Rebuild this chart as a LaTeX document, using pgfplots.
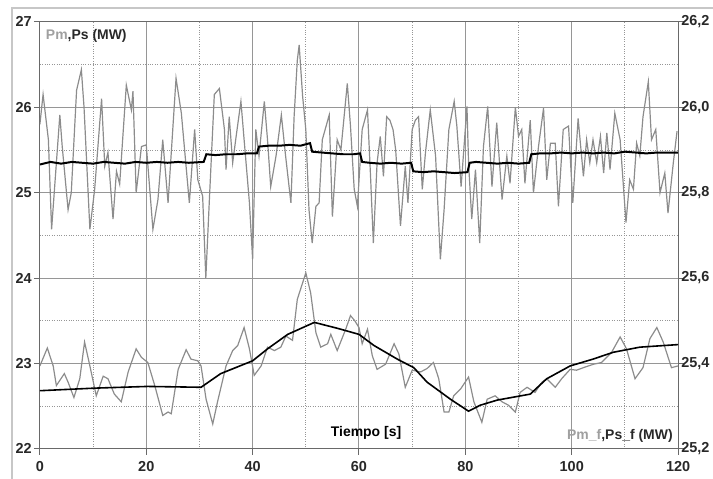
\documentclass[border=0pt]{standalone}
\usepackage{fontspec}
\setmainfont{Liberation Sans}
\usepackage{pgfplots}
\pgfplotsset{compat=1.18}
\definecolor{gridc}{RGB}{150,150,150}
\definecolor{pmc}{RGB}{140,140,140}
\definecolor{axc}{RGB}{105,105,105}
\definecolor{labgray}{RGB}{160,160,160}
\definecolor{labdark}{RGB}{40,40,40}

% Pm (grey, left axis)
\pgfplotstableread{
x y
0 25.80
0.6 26.15
1.6 25.62
2.2 24.57
3.75 25.91
4.2 25.54
5.3 24.80
5.9 25.00
6.9 26.20
7.8 26.44
8.3 26.00
9.4 24.57
10.3 25.04
11.6 26.10
12.2 25.31
12.8 25.47
13.75 24.69
14.4 25.25
15.0 25.10
16.25 26.26
17.2 25.97
17.5 26.19
18.1 25.00
19.1 25.54
20.0 25.56
21.25 24.57
22.2 24.92
23.1 25.62
24.1 24.88
25.6 26.34
26.6 25.93
28.1 24.88
29.1 25.74
29.7 25.15
30.6 24.96
31.2 24.00
31.9 24.96
32.8 26.15
33.75 26.22
34.7 25.74
35.0 25.27
35.6 25.89
36.25 25.35
36.9 25.66
37.8 26.07
38.4 25.62
39.4 24.88
40.0 24.22
40.6 25.74
41.2 25.43
42.2 26.07
42.8 25.62
43.4 25.07
44.4 25.43
45.4 25.91
46.2 25.43
47.2 24.88
47.8 25.89
48.4 26.55
48.75 26.73
49.4 26.13
50.0 25.74
50.6 24.80
51.2 24.41
51.9 24.84
52.5 24.88
53.1 25.62
54.4 25.91
55.0 24.72
55.9 25.62
56.6 25.50
57.8 26.28
58.4 25.78
59.1 25.04
59.7 24.84
60.6 25.74
61.6 25.97
62.2 25.15
62.7 24.41
63.4 25.35
64.0 25.66
64.6 25.19
65.2 25.89
65.8 25.85
66.4 25.74
66.9 25.50
67.8 24.61
68.7 25.31
69.2 24.88
70.0 25.74
70.6 25.85
71.2 25.89
71.9 25.04
72.5 25.47
73.4 25.97
74.4 25.43
75.3 24.22
76.0 24.80
76.9 25.74
77.9 26.07
78.4 25.78
79.2 25.07
80.3 26.01
80.6 25.35
81.2 24.69
81.9 25.27
82.7 24.41
83.4 25.54
84.2 26.01
85.0 25.07
85.9 25.82
86.9 24.92
87.8 25.43
88.4 25.11
89.4 26.00
90.0 25.66
90.6 25.74
91.2 25.11
92.2 25.85
92.8 25.00
93.75 25.54
94.7 25.99
95.3 25.15
96.0 25.58
96.9 25.58
97.5 24.84
98.4 25.74
99.4 25.78
100.2 24.88
101.2 25.87
102.2 25.19
102.8 25.62
103.4 25.35
104.0 25.62
104.7 25.35
105.4 25.66
106.0 25.23
106.6 25.70
107.2 25.27
108.1 25.93
109.1 25.62
110.2 24.65
110.9 25.15
111.6 25.04
112.2 25.58
112.8 25.43
113.4 25.89
114.4 26.30
115.0 25.62
115.8 25.74
116.6 25.00
117.5 25.23
118.1 24.76
119.1 25.35
119.8 25.72
}\pmdata

% Ps (black, left axis)
\pgfplotstableread{
x y
0 25.33
2 25.36
4 25.34
6 25.36
8 25.35
10 25.34
12 25.36
14 25.35
16 25.34
18 25.36
20 25.35
22 25.36
24 25.35
26 25.36
28 25.35
30.8 25.36
31.3 25.45
33 25.44
35 25.45
37 25.45
39 25.46
40.8 25.46
41.2 25.54
43 25.55
45 25.55
47 25.56
49 25.55
50.8 25.58
51.2 25.48
53 25.47
55 25.46
57 25.45
59 25.45
60.2 25.46
60.6 25.36
62 25.35
64 25.34
66 25.35
68 25.34
69.8 25.35
70.2 25.25
72 25.24
74 25.25
76 25.24
78 25.23
80.4 25.24
80.8 25.35
82 25.36
84 25.35
86 25.34
88 25.35
90 25.34
92 25.35
92.4 25.45
94 25.46
96 25.46
98 25.47
100 25.46
102 25.47
104 25.46
106 25.47
108 25.46
110 25.48
112 25.47
114 25.46
116 25.47
118 25.47
120 25.47
}\psdata

% Pm_f (grey, right axis)
\pgfplotstableread{
x y
0 25.394
1.4 25.436
2.5 25.394
3.1 25.348
4.6 25.376
5.3 25.356
6.4 25.320
7.5 25.364
8.4 25.450
9.4 25.394
10.6 25.324
11.9 25.370
12.8 25.364
14.0 25.328
15.3 25.310
16.6 25.380
18.1 25.434
19.1 25.414
20.3 25.402
21.6 25.348
23.1 25.278
24.1 25.286
24.7 25.282
26.0 25.386
27.5 25.432
28.4 25.410
29.7 25.406
30.3 25.394
31.25 25.316
32.5 25.258
33.4 25.310
35.0 25.394
36.25 25.430
37.2 25.442
38.4 25.484
39.4 25.434
40.3 25.372
41.6 25.394
42.8 25.438
44.1 25.430
45.3 25.438
46.25 25.464
47.5 25.454
48.4 25.550
50.0 25.612
50.9 25.566
51.9 25.472
52.8 25.438
54.1 25.446
54.7 25.468
55.9 25.430
57.5 25.480
58.4 25.512
59.2 25.500
60.0 25.484
60.6 25.446
61.6 25.480
62.5 25.418
63.4 25.386
65.0 25.398
66.6 25.446
67.5 25.422
68.7 25.344
70.0 25.384
71.6 25.380
72.8 25.388
74.0 25.402
75.0 25.364
76.0 25.286
76.9 25.286
77.8 25.324
79.1 25.340
80.6 25.368
81.6 25.310
83.1 25.262
84.1 25.316
85.6 25.324
86.9 25.310
88.1 25.302
89.4 25.286
90.3 25.332
91.6 25.344
93.1 25.332
94.4 25.356
95.3 25.364
96.9 25.344
98.1 25.364
99.7 25.386
100.9 25.384
102.2 25.390
104.1 25.398
105.6 25.402
107.5 25.426
109.1 25.462
110.3 25.434
111.9 25.364
113.4 25.390
114.7 25.458
116.0 25.484
117.2 25.450
118.75 25.390
120.0 25.394
}\pmfdata

% Ps_f (black, right axis)
\pgfplotstableread{
x y
0 25.336
10.3 25.342
20.3 25.346
30.3 25.344
34.0 25.376
40.0 25.406
42.8 25.434
46.6 25.468
51.6 25.496
56.0 25.482
60.0 25.468
62.8 25.442
67.2 25.410
70.3 25.390
72.8 25.356
77.2 25.316
80.6 25.288
82.8 25.302
86.0 25.314
92.2 25.328
95.3 25.364
99.7 25.394
104.0 25.410
107.8 25.426
112.8 25.438
120.0 25.444
}\psfdata

\begin{document}
\begin{tikzpicture}
\pgfplotsset{every axis/.append style={
  scale only axis, width=640pt, height=428pt,
  xmin=0, xmax=120,
  tick label style={font=\fontsize{14.5}{16}\selectfont\bfseries, text=labdark},
  /pgf/number format/assume math mode=true,
  axis line style={axc, line width=1pt},
  tick style={axc, line width=1pt},
  tick align=outside, major tick length=6pt, minor tick length=0pt,
}}
\begin{axis}[
  ymin=22, ymax=27,
  xtick={0,20,...,120}, minor xtick={10,30,...,110},
  ytick={22,...,27}, minor ytick={22.5,23.5,...,26.5},
  xtick pos=lower, ytick pos=left,
  grid=both,
  major grid style={gridc, line width=1pt},
  minor grid style={gridc, dotted, line width=0.9pt},
  xticklabel style={yshift=-3pt},
  yticklabel style={inner sep=2pt},
]
\addplot[pmc, line width=1.2pt] table[x=x,y=y] {\pmdata};
\addplot[black, line width=2pt] table[x=x,y=y] {\psdata};
\node[anchor=west, font=\fontsize{14}{16}\selectfont\bfseries] at (rel axis cs:0.004,0.968)
  {\textcolor{labgray}{Pm}\textcolor{labdark}{,Ps (MW)}};
\node[font=\fontsize{14}{16}\selectfont\bfseries, text=black] at (rel axis cs:0.511,0.036) {Tiempo [s]};
\node[anchor=east, font=\fontsize{14}{16}\selectfont\bfseries] at (rel axis cs:0.997,0.03)
  {\textcolor{labgray}{Pm\_f}\textcolor{labdark}{,Ps\_f (MW)}};
\end{axis}
\begin{axis}[
  ymin=25.2, ymax=26.2,
  axis x line=none, axis y line*=right,
  ytick={25.2,25.4,25.6,25.8,26.0,26.2},
  yticklabel style={xshift=-4pt, inner sep=1pt,
    /pgf/number format/.cd, fixed, fixed zerofill, precision=1, use comma},
]
\addplot[pmc, line width=1.2pt] table[x=x,y=y] {\pmfdata};
\addplot[black, line width=1.6pt] table[x=x,y=y] {\psfdata};
\end{axis}
\draw[black!22, line width=1.5pt] (-28pt,-60pt) rectangle (700pt,442pt);
\pgfresetboundingbox
\path[use as bounding box] (-40pt,-30pt) rectangle (675pt,450pt);
\end{tikzpicture}
\end{document}
